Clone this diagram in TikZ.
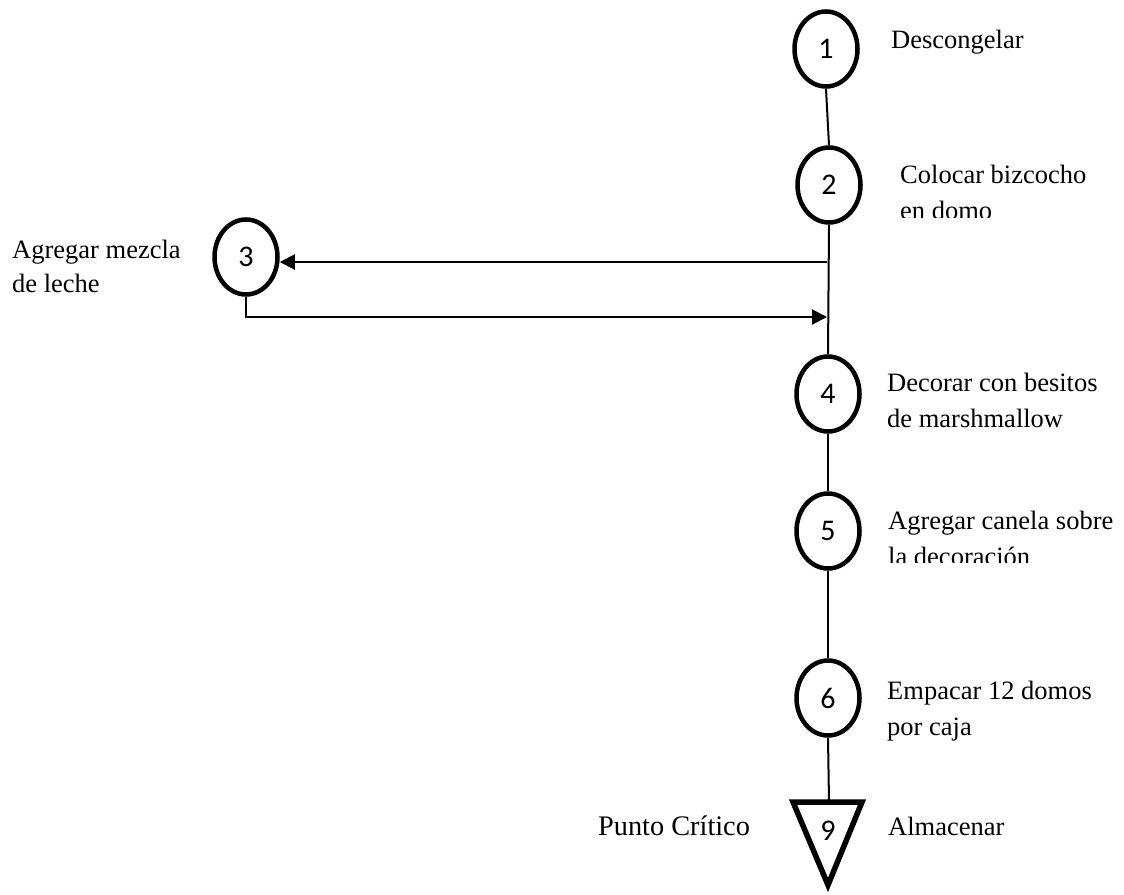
\documentclass[tikz,border=0pt]{standalone}
\usepackage{fontspec}
\setmainfont{Liberation Serif}
\newfontfamily\numfont{Carlito}
\usetikzlibrary{arrows.meta,shapes.geometric}
\tikzset{
  opnode/.style={ellipse,draw,line width=4.5pt,minimum width=63pt,minimum height=75pt,inner sep=0pt,font=\numfont\fontsize{30}{32}\selectfont},
  conn/.style={line width=2pt},
  arr/.style={line width=2pt,-{Triangle[length=15pt,width=15pt]}},
  lbl/.style={anchor=base west,inner sep=0pt,font=\fontsize{26.5}{36}\selectfont},
}
\begin{document}
\begin{tikzpicture}[x=1pt,y=-1pt]
\useasboundingbox (0,0) rectangle (1124,894);
% operation circles
\node[opnode] (c1) at (826,49) {1};
\node[opnode] (c2) at (829,185) {2};
\node[opnode] (c3) at (246,257) {3};
\node[opnode] (c4) at (828,394) {4};
\node[opnode] (c5) at (828,531) {5};
\node[opnode] (c6) at (828,698) {6};
% storage triangle
\draw[line width=5.5pt,line join=miter] (793,802) -- (862,802) -- (828,885) -- cycle;
\node[font=\numfont\fontsize{30}{32}\selectfont,inner sep=0pt] (n9) at (828,831) {9};
\coordinate (t9) at (829,802);
% junctions on trunk
\coordinate (j1) at (827,262);
\coordinate (j2) at (827,317);
% connectors
\draw[conn] (c1.south) -- (c2.north);
\draw[conn] (c2.south) -- (c4.north);
\draw[arr] (j1) -- (j1 -| c3.east);
\draw[arr] (c3.south) -- (c3.south |- j2) -- (j2);
\draw[conn] (c4.south) -- (c5.north);
\draw[conn] (c5.south) -- (c6.north);
\draw[conn] (c6.south) -- (t9);
% labels
\node[lbl] (l1) at (891,48) {Descongelar};
\begin{scope}
\clip (880,140) rectangle (1124,217);
\node[lbl] (l2) at (900,183) {\vtop{\hbox{Colocar bizcocho}\hbox{en domo}}};
\end{scope}
\node[lbl,font=\fontsize{26.5}{34}\selectfont] (l3) at (12,258) {\vtop{\hbox{Agregar mezcla}\hbox{de leche}}};
\node[lbl] (l4) at (887,391) {\vtop{\hbox{Decorar con besitos}\hbox{de marshmallow}}};
\begin{scope}
\clip (880,490) rectangle (1124,562);
\node[lbl,font=\fontsize{26.5}{36}\selectfont] (l5) at (888,529) {\vtop{\hbox{Agregar canela sobre}\hbox{la decoración}}};
\end{scope}
\node[lbl] (l6) at (887,699) {\vtop{\hbox{Empacar 12 domos}\hbox{por caja}}};
\node[lbl] (l9) at (888,835) {Almacenar};
\node[lbl,font=\fontsize{28.3}{34}\selectfont] (pc) at (598,835) {Punto Crítico};
\end{tikzpicture}
\end{document}
